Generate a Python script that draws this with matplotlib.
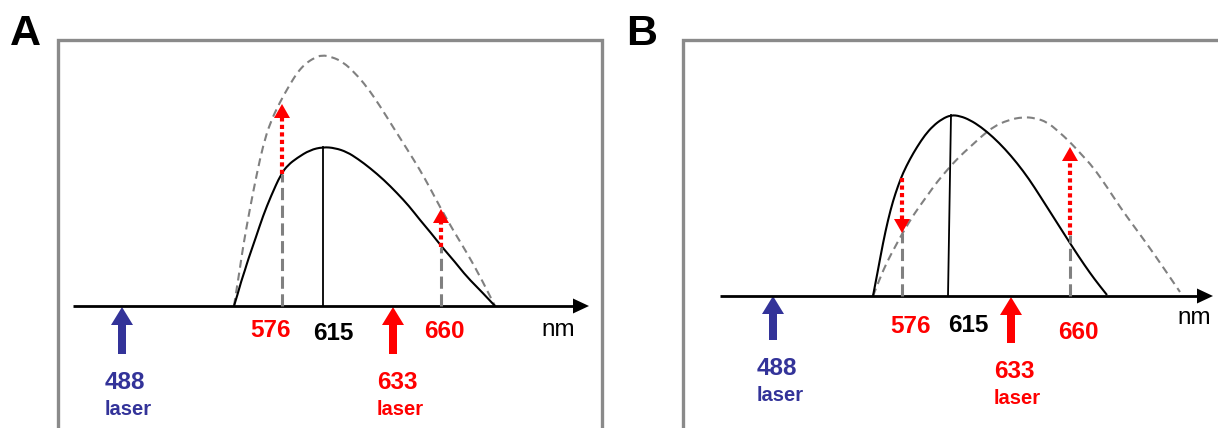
import matplotlib
matplotlib.use("Agg")
import matplotlib.pyplot as plt
from matplotlib.patches import FancyArrow, PathPatch
from matplotlib.path import Path

plt.rcParams['font.family'] = ['Liberation Sans', 'DejaVu Sans']

RED = '#ff0000'
BLUE = '#333399'
GRAY = '#808080'
FRAME = '#8a8a8a'

# Everything is a schematic, so positions are read in picture pixels (y down)

# ---- panel A ----
a_frame = [58, 40, 602]          # left, top, right
a_axis = [73, 589, 306]          # start x, arrow tip x, baseline y
a_em_x = [234, 238, 241, 245, 248, 256, 263, 271, 281, 288, 297, 310, 323,
          335, 347, 358, 370, 384, 397, 409, 420, 431, 442, 455, 467, 481, 495]
a_em_y = [306, 293, 282, 270, 260, 237, 216, 196, 174, 165, 158, 150, 147,
          148, 152, 159, 168, 180, 193, 206, 220, 233, 247, 262, 277, 291, 306]
a_shift_x = [234, 236, 240, 243, 250, 257, 263, 270, 280, 289, 297, 305, 314, 322,
             332, 343, 355, 367, 380, 393, 407, 420, 430, 440, 453, 467, 481, 495]
a_shift_y = [306, 293, 268, 247, 208, 173, 146, 123, 102, 86, 73, 64, 58, 55,
             57, 62, 73, 87, 106, 127, 149, 170, 188, 207, 230, 253, 278, 306]
a_peak_x = [323, 323]
a_peak_y = [147, 306]
a_det_x = [282, 441]             # 576 and 660 detection channels
a_det_from = [174, 247]
a_det_to = [104, 209]

# ---- panel B ----
b_frame = [683, 40, 1240]
b_axis = [720, 1213, 296]
b_em_x = [873, 878, 883, 888, 893, 898, 903, 910, 917, 925, 933, 942, 951, 960,
          970, 981, 993, 1005, 1017, 1029, 1040, 1054, 1068, 1079, 1090, 1099, 1107]
b_em_y = [296, 270, 243, 220, 201, 186, 173, 159, 147, 135, 126, 119, 115, 116,
          120, 127, 137, 149, 163, 179, 196, 218, 240, 257, 273, 285, 295]
b_shift_x = [873, 880, 887, 895, 902, 914, 927, 937, 948, 959, 970, 982, 993, 1008,
             1023, 1035, 1047, 1058, 1070, 1081, 1093, 1107, 1120, 1133, 1147, 1163, 1180]
b_shift_y = [296, 278, 262, 247, 234, 214, 196, 182, 169, 157, 147, 136, 127, 120,
             117, 118, 122, 131, 142, 154, 167, 187, 207, 225, 244, 267, 292]
b_peak_x = [951, 948]
b_peak_y = [115, 296]
b_det_x = [902, 1070]
b_det_from = [178, 235]
b_det_to = [233, 147]

# ---- labels ----
wl_labels = ['576', '615', '660']
wl_colors = [RED, 'black', RED]
a_wl_x = [250, 313, 424]
a_wl_y = [337, 340, 338]
b_wl_x = [890, 948, 1058]
b_wl_y = [333, 332, 339]
laser_nm = ['488', '633']
laser_colors = [BLUE, RED]
a_laser_x = [122, 393]
a_laser_tip = [307, 307]
a_laser_base = [354, 354]
a_laser_text_x = [105, 377]
a_laser_text_y = [389, 389]
b_laser_x = [773, 1011]
b_laser_tip = [296, 297]
b_laser_base = [340, 343]
b_laser_text_x = [757, 994]
b_laser_text_y = [375, 378]
a_nm = [541, 336]
b_nm = [1177, 324]
panel_names = ['A', 'B']
panel_xy = [[10, 45], [626, 45]]

fig = plt.figure(figsize=(12.18, 4.28), dpi=100)
ax = fig.add_axes([0, 0, 1, 1])
ax.set_xlim(0, 1218)
ax.set_ylim(428, 0)
ax.axis('off')


def smooth_curve(xs, ys, **kw):
    # quadratic bezier through the read points (rounds the corners)
    pts = list(zip(xs, ys))
    verts = [pts[0]]
    codes = [Path.MOVETO]
    for i in range(1, len(pts) - 2):
        mid = ((pts[i][0] + pts[i + 1][0]) / 2, (pts[i][1] + pts[i + 1][1]) / 2)
        verts += [pts[i], mid]
        codes += [Path.CURVE3, Path.CURVE3]
    verts += [pts[-2], pts[-1]]
    codes += [Path.CURVE3, Path.CURVE3]
    ax.add_patch(PathPatch(Path(verts, codes), fill=False, **kw))


def tri(x, y, up, w, h, color):
    # filled arrow head with its tip at (x, y)
    s = 1 if up else -1
    ax.fill([x, x - w / 2, x + w / 2], [y, y + s * h, y + s * h], color=color, lw=0, zorder=5)


def panel(frame, axis, em_x, em_y, sh_x, sh_y, pk_x, pk_y, det_x, det_from, det_to,
          wl_x, wl_y, l_x, l_tip, l_base, lt_x, lt_y, nm):
    left, top, right = frame
    ax.plot([left, left, right, right], [440, top, top, 440], color=FRAME, lw=2.4,
            solid_joinstyle='miter', clip_on=False)
    x0, x1, y0 = axis
    ax.plot([x0, x1 - 14], [y0, y0], color='black', lw=2.0, solid_capstyle='butt')
    ax.fill([x1, x1 - 16, x1 - 16], [y0, y0 - 7.5, y0 + 7.5], color='black', lw=0)

    smooth_curve(sh_x, sh_y, edgecolor=GRAY, lw=1.5, ls=(0, (3.8, 2.4)))
    smooth_curve(em_x, em_y, edgecolor='black', lw=1.5)
    ax.plot(pk_x, pk_y, color='black', lw=1.3)

    for x, a, b in zip(det_x, det_from, det_to):
        base = max(a, b)
        ax.plot([x, x], [y0, base], color=GRAY, lw=2.2, ls=(0, (4, 1.8)))
        up = b < a
        hb = b + 13 if up else b - 13
        ax.plot([x, x], [a, hb], color=RED, lw=3.0, ls=(0, (1, 0.8)),
                solid_capstyle='butt', zorder=4)
        tri(x, b, up, 16, 14, RED)

    for lab, c, x, y in zip(wl_labels, wl_colors, wl_x, wl_y):
        ax.text(x, y, lab, color=c, fontsize=17.5, fontweight='bold', ha='left', va='baseline')

    for nmv, c, x, t, b, tx, ty in zip(laser_nm, laser_colors, l_x, l_tip, l_base, lt_x, lt_y):
        ax.add_patch(FancyArrow(x, b, 0, t - b, width=8, head_width=22, head_length=18,
                                length_includes_head=True, color=c, lw=0))
        ax.text(tx, ty, nmv, color=c, fontsize=17.5, fontweight='bold', ha='left', va='baseline')
        ax.text(tx, ty + 26, 'laser', color=c, fontsize=14.5, fontweight='bold',
                ha='left', va='baseline')

    ax.text(nm[0], nm[1], 'nm', color='black', fontsize=17.5, ha='left', va='baseline')


panel(a_frame, a_axis, a_em_x, a_em_y, a_shift_x, a_shift_y, a_peak_x, a_peak_y,
      a_det_x, a_det_from, a_det_to, a_wl_x, a_wl_y, a_laser_x, a_laser_tip, a_laser_base,
      a_laser_text_x, a_laser_text_y, a_nm)
panel(b_frame, b_axis, b_em_x, b_em_y, b_shift_x, b_shift_y, b_peak_x, b_peak_y,
      b_det_x, b_det_from, b_det_to, b_wl_x, b_wl_y, b_laser_x, b_laser_tip, b_laser_base,
      b_laser_text_x, b_laser_text_y, b_nm)

for name, (x, y) in zip(panel_names, panel_xy):
    ax.text(x, y, name, fontsize=31, fontweight='bold', ha='left', va='baseline')

fig.savefig('out.png', dpi=100)
